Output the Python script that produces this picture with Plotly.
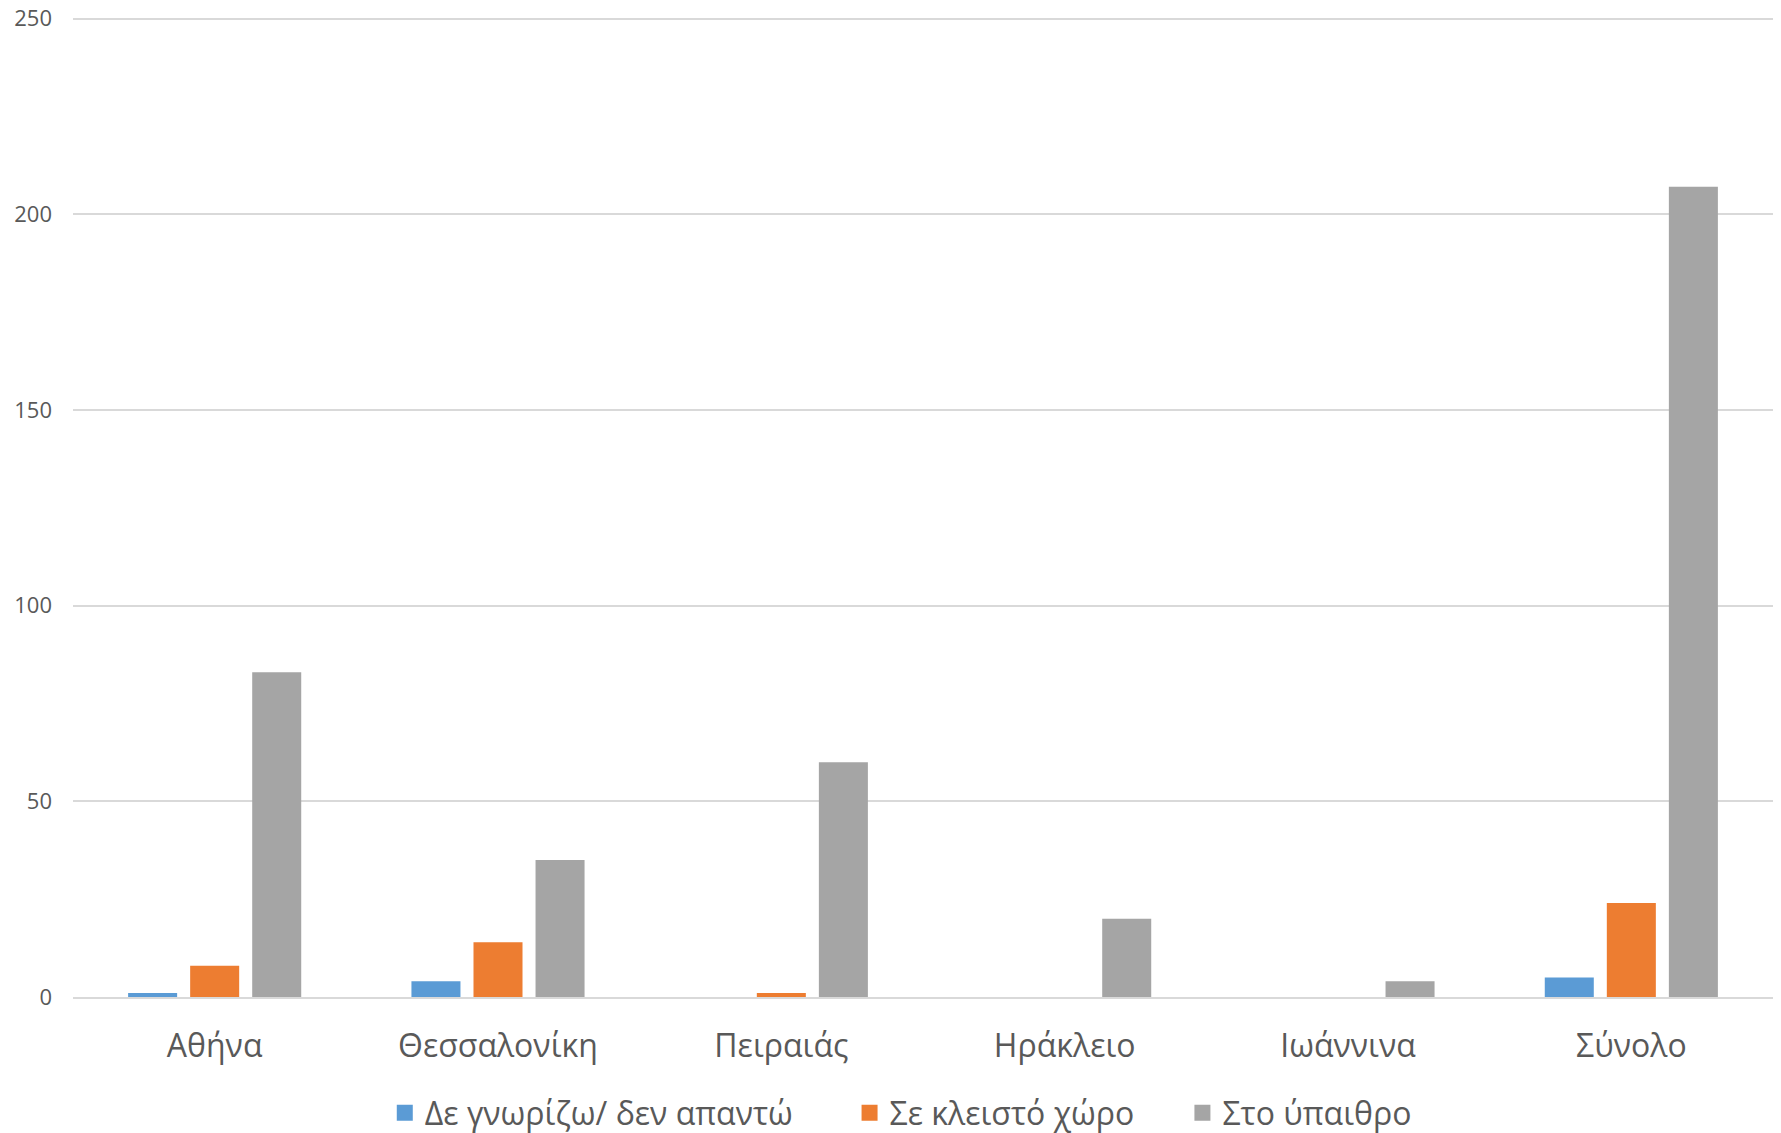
import plotly.graph_objects as go

categories = ["Αθήνα", "Θεσσαλονίκη", "Πειραιάς", "Ηράκλειο", "Ιωάννινα", "Σύνολο"]
series_names = ["Δε γνωρίζω/ δεν απαντώ", "Σε κλειστό χώρο", "Στο ύπαιθρο"]
dont_know = [1, 4, 0, 0, 0, 5]
indoor = [8, 14, 1, 0, 0, 24]
outdoor = [83, 35, 60, 20, 4, 207]
y_ticks = [0, 50, 100, 150, 200, 250]

colors = ["#5B9BD5", "#ED7D31", "#A5A5A5"]
FONT = "Open Sans"
TXT = "#595959"

fig = go.Figure()
for name, vals, col in zip(series_names, [dont_know, indoor, outdoor], colors):
    fig.add_trace(go.Bar(x=categories, y=vals, name=name, marker_color=col,
                         marker_line_width=0, showlegend=False))
# legend entries (one legend per entry so each can be placed like the original)
legend_ids = ["legend", "legend2", "legend3"]
legend_x = [0.1834, 0.4568, 0.6526]
for name, col, lid in zip(series_names, colors, legend_ids):
    fig.add_trace(go.Scatter(x=[None], y=[None], mode="markers", name=name,
                             marker=dict(symbol="square", size=16, color=col),
                             showlegend=True, legend=lid))

legend_common = dict(orientation="h", xanchor="left", y=-0.1184, yanchor="middle",
                     font=dict(size=32, color=TXT, family=FONT),
                     itemsizing="trace", bgcolor="rgba(0,0,0,0)")

fig.update_layout(
    width=1781, height=1133,
    margin=dict(l=73, r=8, t=17, b=136, autoexpand=False),
    paper_bgcolor="white", plot_bgcolor="white",
    barmode="group", bargap=0.343, bargroupgap=0.21,
    font=dict(family=FONT, color=TXT),
    showlegend=True,
    legend=dict(x=legend_x[0], **legend_common),
    legend2=dict(x=legend_x[1], **legend_common),
    legend3=dict(x=legend_x[2], **legend_common),
)
fig.update_xaxes(showgrid=False, showline=True, linecolor="#D9D9D9", linewidth=2,
                 tickfont=dict(size=32, color=TXT, family=FONT),
                 ticks="", ticklabelstandoff=20, automargin=False)
fig.update_yaxes(range=[0, 250.4], tickvals=y_ticks, showgrid=True, gridcolor="#D9D9D9",
                 gridwidth=1.5, zeroline=False, showline=False,
                 tickfont=dict(size=22, color=TXT, family=FONT),
                 ticklabelstandoff=20, automargin=False)

fig.write_html("out.html", config={"displayModeBar": False},
               post_script="document.body.style.margin='0px';document.body.style.overflow='hidden';")
